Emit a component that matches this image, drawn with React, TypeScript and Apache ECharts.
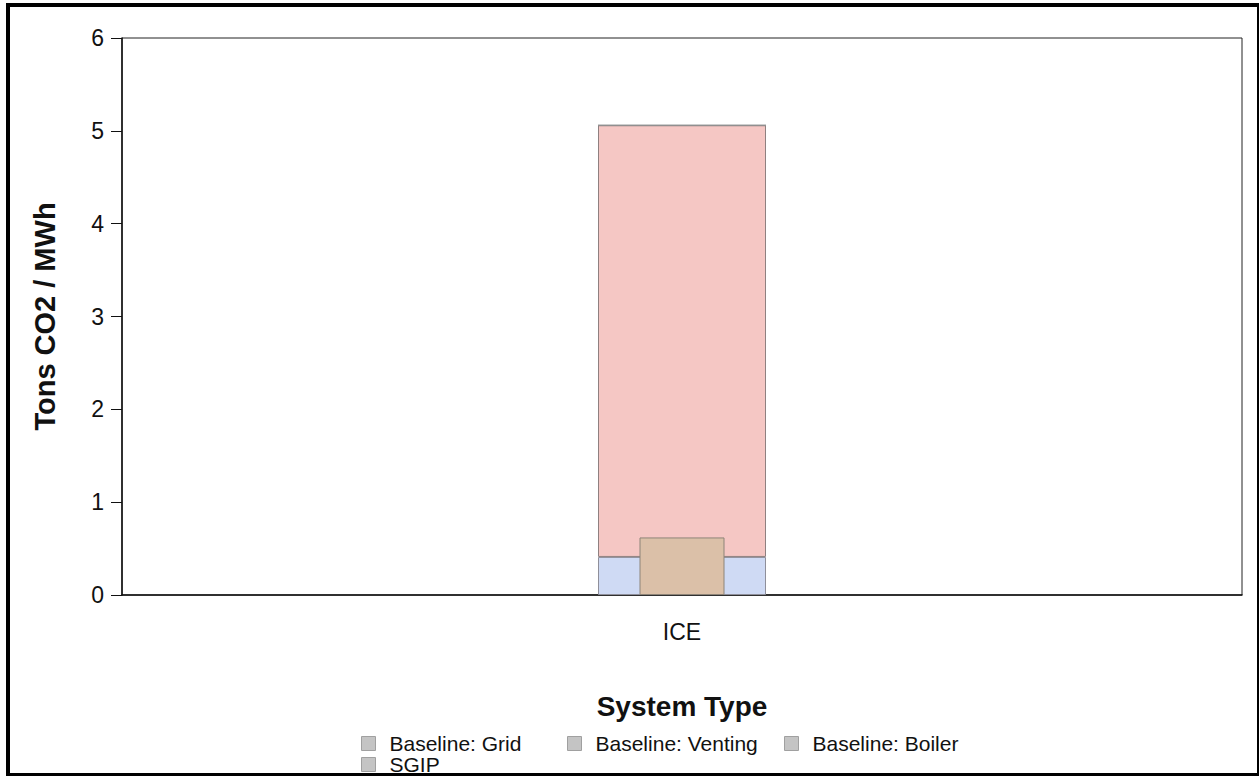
import React, { useEffect, useRef } from "react";
import * as echarts from "echarts";

const categories = ["ICE"];
const baselineGrid = [0.41];
const baselineVenting = [4.65];
const baselineBoiler = [0];
const sgip = [0.62];
const legendNames = ["Baseline: Grid", "Baseline: Venting", "Baseline: Boiler", "SGIP"];

export default function App() {
  const ref = useRef<HTMLDivElement>(null);
  useEffect(() => {
    if (!ref.current) return;
    const chart = echarts.init(ref.current, null, { renderer: "svg" });
    const font = "Liberation Sans";
    const legendPos = [
      [361, 733],
      [567, 733],
      [784, 733],
      [361, 754],
    ];
    const legends = legendNames.map((n, i) => ({
      left: legendPos[i][0],
      top: legendPos[i][1],
      itemWidth: 14,
      itemHeight: 14,
      icon: "rect",
      padding: 0,
      textStyle: {
        fontFamily: font,
        fontSize: 21,
        color: "#111",
        padding: [0, 0, 0, 9],
      },
      data: [
        {
          name: n,
          itemStyle: { color: "#c4c4c4", borderColor: "#a0a0a0", borderWidth: 1 },
        },
      ],
    }));
    chart.setOption({
      animation: false,
      backgroundColor: "#ffffff",
      textStyle: { fontFamily: font },
      grid: {
        left: 122,
        right: 17,
        top: 38,
        bottom: 181,
        show: true,
        borderColor: "#222",
        borderWidth: 1,
        backgroundColor: "transparent",
      },
      legend: legends,
      xAxis: [
        {
          type: "category",
          data: categories,
          name: "System Type",
          nameLocation: "middle",
          nameGap: 97,
          nameTextStyle: { fontFamily: font, fontSize: 28, fontWeight: "bold", color: "#111" },
          axisLine: { lineStyle: { color: "#111", width: 1.5 } },
          axisTick: { alignWithLabel: true, length: 9, lineStyle: { color: "#111" } },
          axisLabel: { fontFamily: font, fontSize: 23, color: "#111", margin: 25 },
        },
        {
          type: "category",
          data: categories,
          show: false,
        },
      ],
      yAxis: {
        type: "value",
        min: 0,
        max: 6,
        interval: 1,
        name: "Tons CO2 / MWh",
        nameLocation: "middle",
        nameGap: 63,
        nameTextStyle: { fontFamily: font, fontSize: 29, fontWeight: "bold", color: "#111" },
        axisLine: { show: true, lineStyle: { color: "#111", width: 1.5 } },
        axisTick: { show: true, length: 11, lineStyle: { color: "#111" } },
        axisLabel: { fontFamily: font, fontSize: 23, color: "#111", margin: 18 },
        splitLine: { show: false },
      },
      series: [
        {
          name: "Baseline: Grid",
          type: "bar",
          stack: "base",
          xAxisIndex: 0,
          barWidth: 168,
          data: baselineGrid,
          itemStyle: { color: "#cfdaf4", borderColor: "#8f8f9a", borderWidth: 1 },
        },
        {
          name: "Baseline: Venting",
          type: "bar",
          stack: "base",
          xAxisIndex: 0,
          barWidth: 168,
          data: baselineVenting,
          itemStyle: { color: "#f5c7c4", borderColor: "#8f8080", borderWidth: 1 },
        },
        {
          name: "Baseline: Boiler",
          type: "bar",
          stack: "base",
          xAxisIndex: 0,
          barWidth: 168,
          data: baselineBoiler,
          itemStyle: { color: "#d8d8c0", borderColor: "#8f8f8f", borderWidth: 1 },
        },
        {
          name: "SGIP",
          type: "bar",
          xAxisIndex: 1,
          barWidth: 85,
          data: sgip,
          itemStyle: { color: "#dbc0a8", borderColor: "#8d8478", borderWidth: 1 },
        },
      ],
      graphic: [
        { type: "rect", shape: { x: 6, y: 3, width: 4, height: 773 }, style: { fill: "#000" } },
        { type: "rect", shape: { x: 6, y: 3, width: 1253, height: 4 }, style: { fill: "#000" } },
        { type: "rect", shape: { x: 1257, y: 3, width: 2, height: 773 }, style: { fill: "#000" } },
        { type: "rect", shape: { x: 6, y: 773, width: 1253, height: 3 }, style: { fill: "#000" } },
      ],
    });
    return () => chart.dispose();
  }, []);
  return (
    <div
      ref={ref}
      style={{ position: "absolute", left: 0, top: 0, width: 1259, height: 776, background: "#fff" }}
    />
  );
}
